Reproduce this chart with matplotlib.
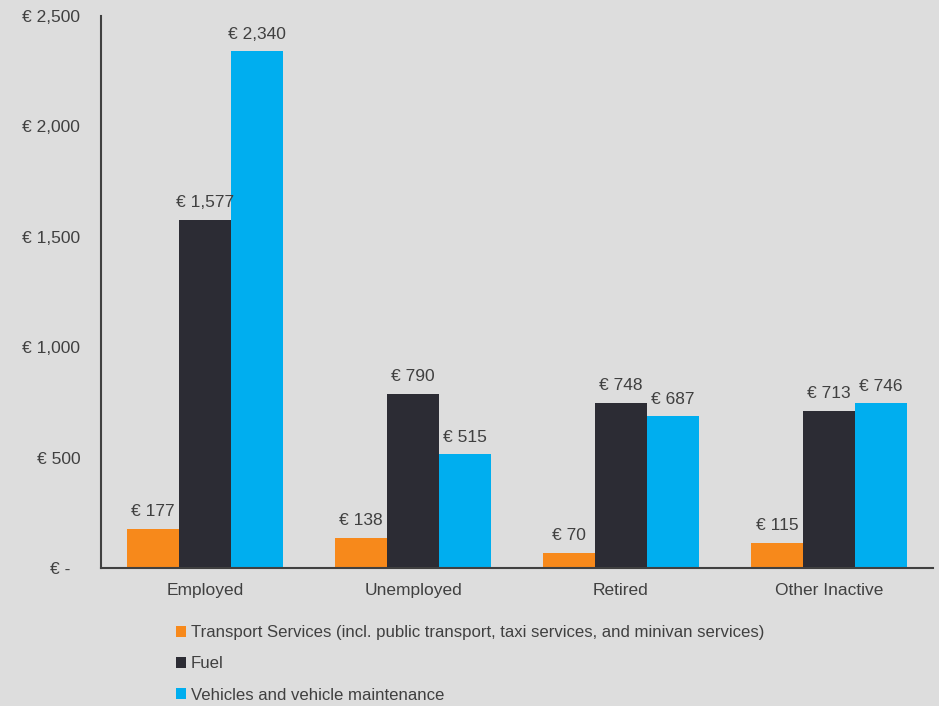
import numpy as np
import matplotlib.pyplot as plt
from matplotlib.patches import Patch

plt.rcParams['font.family'] = ['Liberation Sans', 'DejaVu Sans']

# Annual spending per household, by employment status
groups = ["Employed", "Unemployed", "Retired", "Other Inactive"]
transport = [177, 138, 70, 115]
fuel = [1577, 790, 748, 713]
vehicles = [2340, 515, 687, 746]

series_names = [
    "Transport Services (incl. public transport, taxi services, and minivan services)",
    "Fuel",
    "Vehicles and vehicle maintenance",
]
colors = ["#F7891B", "#2C2C34", "#00AEEF"]
yticks = [0, 500, 1000, 1500, 2000, 2500]

BG = "#DDDDDD"
TXT = "#404040"
FS = 12.5

fig = plt.figure(figsize=(9.39, 7.06), dpi=100, facecolor=BG)
ax = fig.add_axes([101 / 939, 1 - 568 / 706, 832 / 939, 552 / 706])
ax.set_facecolor(BG)

x = np.arange(len(groups))
w = 0.25
for i, (vals, c) in enumerate(zip([transport, fuel, vehicles], colors)):
    pos = x + (i - 1) * w
    ax.bar(pos, vals, width=w, color=c, zorder=2)
    for px, v in zip(pos, vals):
        ax.annotate(f"€ {v:,}", (px, v), xytext=(0, 7), textcoords="offset points",
                    ha="center", va="bottom", fontsize=FS, color=TXT)

ax.set_xlim(-0.5, 3.5)
ax.set_ylim(0, 2500)
ax.set_xticks(x)
ax.set_xticklabels(groups, fontsize=FS, color=TXT)
ax.set_yticks(yticks)
ax.set_yticklabels([f"€ {v:,}" if v else "€ -  " for v in yticks], fontsize=FS, color=TXT)
ax.tick_params(axis="both", length=0)
ax.tick_params(axis="y", pad=15)
ax.tick_params(axis="x", pad=11)

for s in ["top", "right"]:
    ax.spines[s].set_visible(False)
for s in ["left", "bottom"]:
    ax.spines[s].set_color("#404040")
    ax.spines[s].set_linewidth(1.5)

handles = [Patch(facecolor=c, edgecolor="none") for c in colors]
fig.legend(handles, series_names, loc="upper left", bbox_to_anchor=(176 / 939, 1 - 625 / 706),
           frameon=False, fontsize=12.1, labelcolor=TXT, handlelength=0.62, handleheight=0.62,
           handletextpad=0.25, labelspacing=0.97, borderpad=0, borderaxespad=0)

fig.savefig("out.png", dpi=100, facecolor=BG)
